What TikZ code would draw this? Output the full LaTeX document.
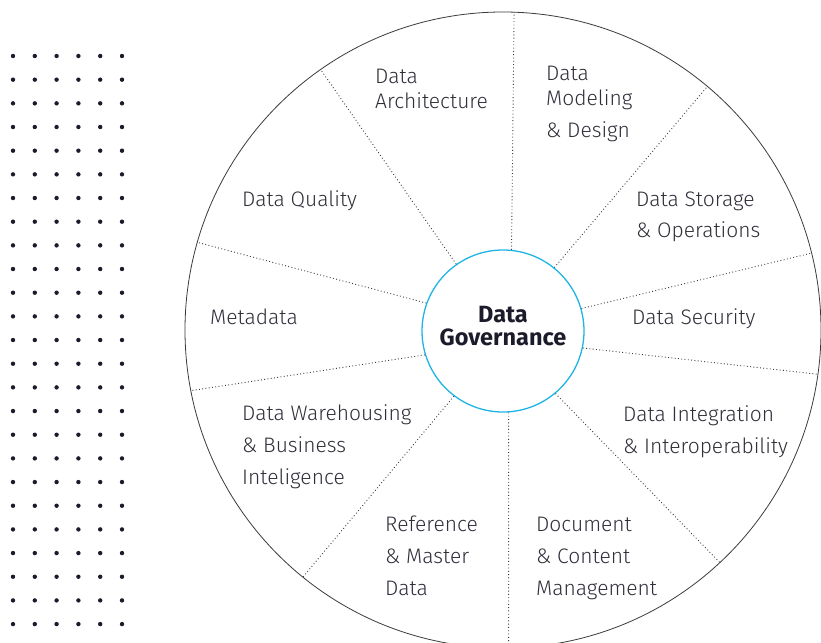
\documentclass[tikz,border=0pt]{standalone}
\usepackage{fontspec}
\setmainfont{Fira Sans}[UprightFont={* Light}, BoldFont={* Bold}]
\definecolor{ink}{HTML}{2F2F3A}
\definecolor{navy}{HTML}{1B1B2B}
\definecolor{ring}{HTML}{1EB4E4}
\definecolor{rim}{HTML}{3A3A3A}

\begin{document}
\begin{tikzpicture}[x=1pt, y=-1pt]
\tikzstyle{area}=[anchor=base west, align=left, inner sep=0pt, text=ink, font=\fontsize{21}{32}\selectfont]
\tikzstyle{spoke}=[draw=rim, line width=0.9pt, dash pattern=on 0.9pt off 2.4pt]
\clip (0,0) rectangle (821,642);
% dot grid on the left
\foreach \i in {0,...,5}
  \foreach \j in {0,...,24}
    \fill[navy] (13+21.8*\i, 56+23.67*\j) circle (2.2pt);
\node (O) [circle, draw=rim, line width=0.8pt, minimum size=636pt, inner sep=0pt] at (503,330) {};
\node (G) [circle, draw=ring, line width=1.3pt, minimum size=162pt, inner sep=0pt] at (503,331) {};
\node (T) [align=center, inner sep=0pt, text=navy, font=\bfseries\fontsize{23.5}{23}\selectfont] at (503,326) {Data\\Governance};
\draw [spoke] (G.84) -- (O.88.6);
\draw [spoke] (G.125.6) -- (O.125.6);
\draw [spoke] (G.51.8) -- (O.50.2);
\draw [spoke] (G.160.4) -- (O.164.1);
\draw [spoke] (G.197) -- (O.191.1);
\draw [spoke] (G.16) -- (O.14.5);
\draw [spoke] (G.-12) -- (O.-8.7);
\draw [spoke] (G.233) -- (O.231.6);
\draw [spoke] (G.-50) -- (O.-47.4);
\draw [spoke] (G.-86) -- (O.-89);
% the ten knowledge areas (anchored at the last baseline)
\node (A) [area] at (375,108) {Data\\[-7pt]Architecture};
\node (B) [area] at (546,137) {Data\\[-7pt]Modeling\\\& Design};
\node (C) [area] at (242,206) {Data Quality};
\node (D) [area] at (636,237) {Data Storage\\[-1.5pt]\& Operations};
\node (E) [area] at (210,324) {Metadata};
\node (F) [area] at (632,324) {Data Security};
\node (H) [area] at (242,484) {Data Warehousing\\\& Business\\Inteligence};
\node (I) [area] at (623,453) {Data Integration\\\& Interoperability};
\node (J) [area] at (385,595) {Reference\\[-0.5pt]\& Master\\Data};
\node (K) [area] at (536,595) {Document\\[-0.5pt]\& Content\\Management};
\end{tikzpicture}
\end{document}
